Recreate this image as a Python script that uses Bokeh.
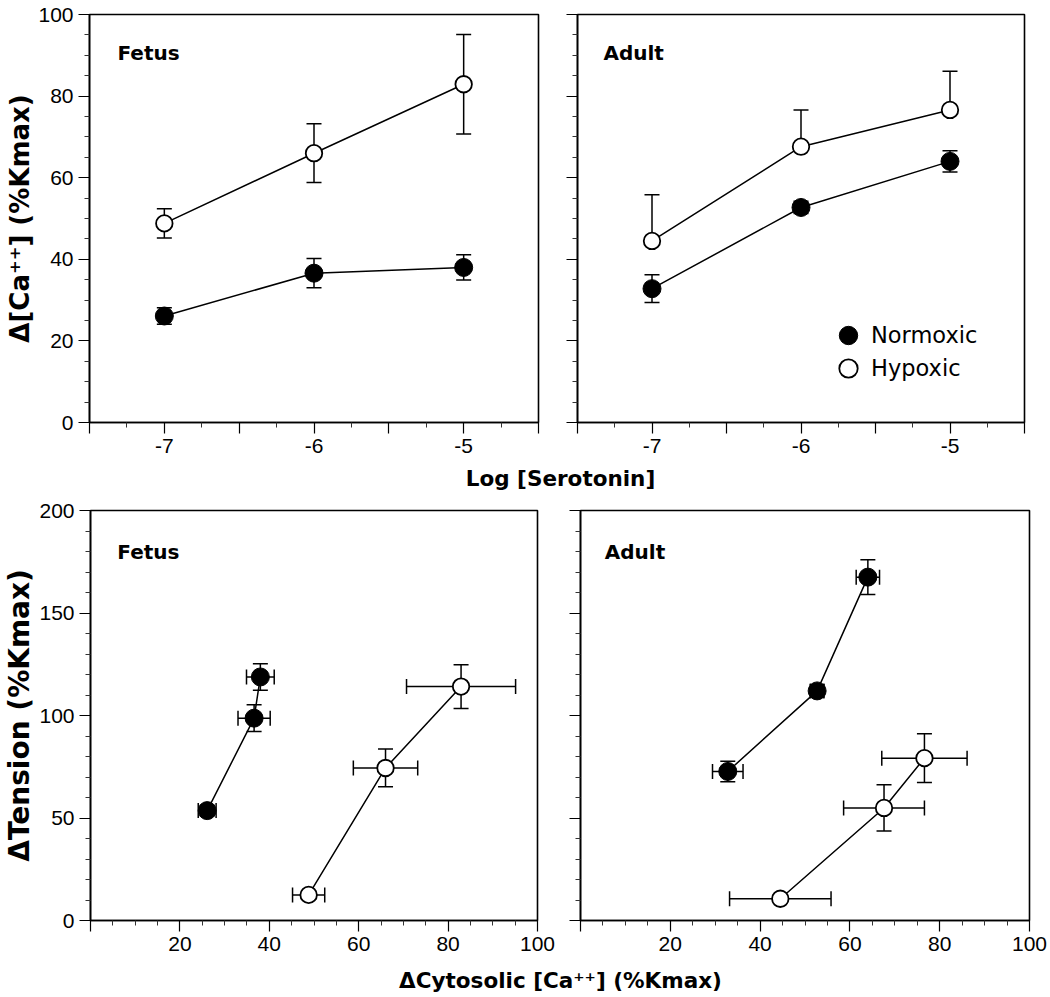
from bokeh.plotting import figure
from bokeh.models import (ColumnDataSource, Whisker, TeeHead, FixedTicker, Label,
                          Legend, LegendItem, Range1d)
from bokeh.layouts import column, row
from bokeh.embed import file_html
from bokeh.resources import INLINE

# ---------------- data ----------------
log_serotonin = [-7, -6, -5]

fetus_normoxic_ca = [26.1, 36.6, 38.0]
fetus_normoxic_ca_sem = [2.0, 3.6, 3.1]
fetus_hypoxic_ca = [48.8, 66.0, 82.9]
fetus_hypoxic_ca_sem = [3.6, 7.2, 12.2]

adult_normoxic_ca = [32.8, 52.7, 64.0]
adult_normoxic_ca_sem = [3.4, 1.5, 2.6]
adult_hypoxic_ca = [44.5, 67.6, 76.6]
adult_hypoxic_ca_sem = [11.3, 9.0, 9.5]

fetus_normoxic_tension = [53.6, 98.7, 118.8]
fetus_normoxic_tension_sem = [2.5, 6.5, 6.5]
fetus_hypoxic_tension = [12.5, 74.4, 114.1]
fetus_hypoxic_tension_sem = [2.0, 9.2, 10.7]

adult_normoxic_tension = [72.7, 112.0, 167.5]
adult_normoxic_tension_sem = [5.0, 3.0, 8.5]
adult_hypoxic_tension = [10.6, 54.9, 79.2]
adult_hypoxic_tension_sem = [2.0, 11.3, 11.9]

top_x_ticks = [-7.5, -7, -6.5, -6, -5.5, -5, -4.5]
top_x_minor = [-7.25, -6.75, -6.25, -5.75, -5.25, -4.75]
top_y_ticks = [0, 20, 40, 60, 80, 100]
top_y_minor = [5, 10, 15, 25, 30, 35, 45, 50, 55, 65, 70, 75, 85, 90, 95]
bottom_x_ticks = [0, 20, 40, 60, 80, 100]
bottom_x_minor = [5, 10, 15, 25, 30, 35, 45, 50, 55, 65, 70, 75, 85, 90, 95]
bottom_y_ticks = [0, 50, 100, 150, 200]
bottom_y_minor = [10, 20, 30, 40, 60, 70, 80, 90, 110, 120, 130, 140, 160, 170, 180, 190]

TICK_FONT = "Liberation Sans"
TITLE_FONT = "DejaVu Sans"


def make_fig(width, height, xr, yr, ml, mr, mt, mb):
    p = figure(width=width, height=height, x_range=Range1d(*xr), y_range=Range1d(*yr),
               output_backend="svg", toolbar_location=None,
               min_border_left=ml, min_border_right=mr,
               min_border_top=mt, min_border_bottom=mb)
    p.xgrid.visible = False
    p.ygrid.visible = False
    p.outline_line_color = "black"
    p.outline_line_width = 1.6
    p.outline_line_alpha = 1.0
    p.background_fill_color = "white"
    p.border_fill_color = "white"
    for ax in (p.xaxis[0], p.yaxis[0]):
        ax.axis_line_color = "black"
        ax.axis_line_width = 1.6
        ax.major_tick_line_color = "black"
        ax.major_tick_line_width = 1.2
        ax.major_tick_in = 0
        ax.major_tick_out = 11
        ax.minor_tick_line_color = "#333333"
        ax.minor_tick_line_width = 1.0
        ax.minor_tick_in = 0
        ax.minor_tick_out = 5
        ax.major_label_text_font = TICK_FONT
        ax.major_label_text_font_size = "21px"
        ax.major_label_text_color = "black"
        ax.major_label_standoff = 5
        ax.axis_label_text_font = TITLE_FONT
        ax.axis_label_text_font_style = "bold"
        ax.axis_label_text_font_size = "26px"
        ax.axis_label_text_color = "black"
        ax.axis_label_standoff = 0
    return p


def add_series(p, x, y, filled, yerr=None, upper_only=False, xerr=None):
    src = ColumnDataSource(dict(x=x, y=y))
    if yerr is not None:
        src.data["y_up"] = [a + e for a, e in zip(y, yerr)]
        src.data["y_lo"] = list(y) if upper_only else [a - e for a, e in zip(y, yerr)]
        w = Whisker(base="x", upper="y_up", lower="y_lo", source=src, dimension="height",
                    line_color="black", line_width=1.5, level="underlay",
                    upper_head=TeeHead(size=15, line_color="black", line_width=1.5),
                    lower_head=None if upper_only else TeeHead(size=15, line_color="black", line_width=1.5))
        p.add_layout(w)
    if xerr is not None:
        src.data["x_up"] = [a + e for a, e in zip(x, xerr)]
        src.data["x_lo"] = [a - e for a, e in zip(x, xerr)]
        w = Whisker(base="y", upper="x_up", lower="x_lo", source=src, dimension="width",
                    line_color="black", line_width=1.5, level="underlay",
                    upper_head=TeeHead(size=15, line_color="black", line_width=1.5),
                    lower_head=TeeHead(size=15, line_color="black", line_width=1.5))
        p.add_layout(w)
    p.line("x", "y", source=src, line_color="black", line_width=1.5)
    if filled:
        r = p.scatter("x", "y", source=src, marker="circle", size=18,
                      fill_color="black", line_color="black", line_width=1)
    else:
        r = p.scatter("x", "y", source=src, marker="circle", size=16.5,
                      fill_color="white", line_color="black", line_width=1.8)
    return r


def panel_label(p, text, x, y):
    p.add_layout(Label(x=x, y=y, text=text, text_font=TITLE_FONT, text_font_style="bold",
                       text_font_size="20px", text_color="black", text_baseline="alphabetic",
                       text_align="left"))


def top_axes(p, show_y_labels):
    p.xaxis[0].ticker = FixedTicker(ticks=top_x_ticks, minor_ticks=top_x_minor)
    p.xaxis[0].major_label_overrides = {-7.5: "", -6.5: "", -5.5: "", -4.5: "",
                                        -7: "-7", -6: "-6", -5: "-5"}
    p.yaxis[0].ticker = FixedTicker(ticks=top_y_ticks, minor_ticks=top_y_minor)
    if not show_y_labels:
        p.yaxis[0].major_label_overrides = {t: "" for t in top_y_ticks}


def bottom_axes(p, show_y_labels):
    p.xaxis[0].ticker = FixedTicker(ticks=bottom_x_ticks, minor_ticks=bottom_x_minor)
    p.xaxis[0].major_label_overrides = {0: ""}
    p.yaxis[0].ticker = FixedTicker(ticks=bottom_y_ticks, minor_ticks=bottom_y_minor)
    if not show_y_labels:
        p.yaxis[0].major_label_overrides = {t: "" for t in bottom_y_ticks}


def legend_for(renderer, label, left, bottom):
    return Legend(items=[LegendItem(label=label, renderers=[renderer])],
                  location=(left, bottom), orientation="vertical",
                  glyph_width=46, glyph_height=50, padding=0, margin=0,
                  label_standoff=0, border_line_alpha=0, background_fill_alpha=0,
                  label_text_font=TITLE_FONT, label_text_font_size="22.5px",
                  label_text_color="black")


# ---------------- top row ----------------
p1 = make_fig(557, 461, (-7.5, -4.5), (0, 100), 89, 19, 14, 39)
top_axes(p1, True)
p1.yaxis[0].axis_label = "Δ[Ca⁺⁺] (%Kmax)"
add_series(p1, log_serotonin, fetus_hypoxic_ca, False, yerr=fetus_hypoxic_ca_sem)
add_series(p1, log_serotonin, fetus_normoxic_ca, True, yerr=fetus_normoxic_ca_sem)
panel_label(p1, "Fetus", -7.313, 90.6)

p2 = make_fig(485, 461, (-7.5, -4.5), (0, 100), 20, 18, 14, 39)
top_axes(p2, False)
r_h = add_series(p2, log_serotonin, adult_hypoxic_ca, False, yerr=adult_hypoxic_ca_sem, upper_only=True)
r_n = add_series(p2, log_serotonin, adult_normoxic_ca, True, yerr=adult_normoxic_ca_sem)
panel_label(p2, "Adult", -7.326, 90.6)
p2.add_layout(legend_for(r_n, "Normoxic", 248, 62))
p2.add_layout(legend_for(r_h, "Hypoxic", 248, 29))

# ---------------- bottom row ----------------
p3 = make_fig(558, 469, (0, 100), (0, 200), 89, 21, 20, 39)
bottom_axes(p3, True)
p3.yaxis[0].axis_label = "ΔTension (%Kmax)"
p3.yaxis[0].axis_label_text_font_size = "28px"
add_series(p3, fetus_hypoxic_ca, fetus_hypoxic_tension, False,
           yerr=fetus_hypoxic_tension_sem, xerr=fetus_hypoxic_ca_sem)
add_series(p3, fetus_normoxic_ca, fetus_normoxic_tension, True,
           yerr=fetus_normoxic_tension_sem, xerr=fetus_normoxic_ca_sem)
panel_label(p3, "Fetus", 6.0, 180.0)

p4 = make_fig(490, 469, (0, 100), (0, 200), 22, 19, 20, 39)
bottom_axes(p4, False)
add_series(p4, adult_hypoxic_ca, adult_hypoxic_tension, False,
           yerr=adult_hypoxic_tension_sem, xerr=adult_hypoxic_ca_sem)
add_series(p4, adult_normoxic_ca, adult_normoxic_tension, True,
           yerr=adult_normoxic_tension_sem, xerr=adult_normoxic_ca_sem)
panel_label(p4, "Adult", 5.4, 180.0)


# ---------------- shared x-axis titles ----------------
def title_strip(h, text, baseline_from_bottom):
    s = figure(width=1048, height=h, x_range=Range1d(0, 1048), y_range=Range1d(0, h),
               output_backend="svg", toolbar_location=None, min_border=0,
               x_axis_location=None, y_axis_location=None)
    s.grid.visible = False
    s.outline_line_color = None
    s.add_layout(Label(x=560, y=baseline_from_bottom, text=text, text_font=TITLE_FONT,
                       text_font_style="bold", text_font_size="21.5px", text_color="black",
                       text_align="center", text_baseline="alphabetic"))
    return s


s1 = title_strip(29, "Log [Serotonin]", 12)
s2 = title_strip(36, "ΔCytosolic [Ca⁺⁺] (%Kmax)", 15)

layout = column(row(p1, p2), s1, row(p3, p4), s2)

open("out.html", "w").write(file_html(layout, INLINE))
